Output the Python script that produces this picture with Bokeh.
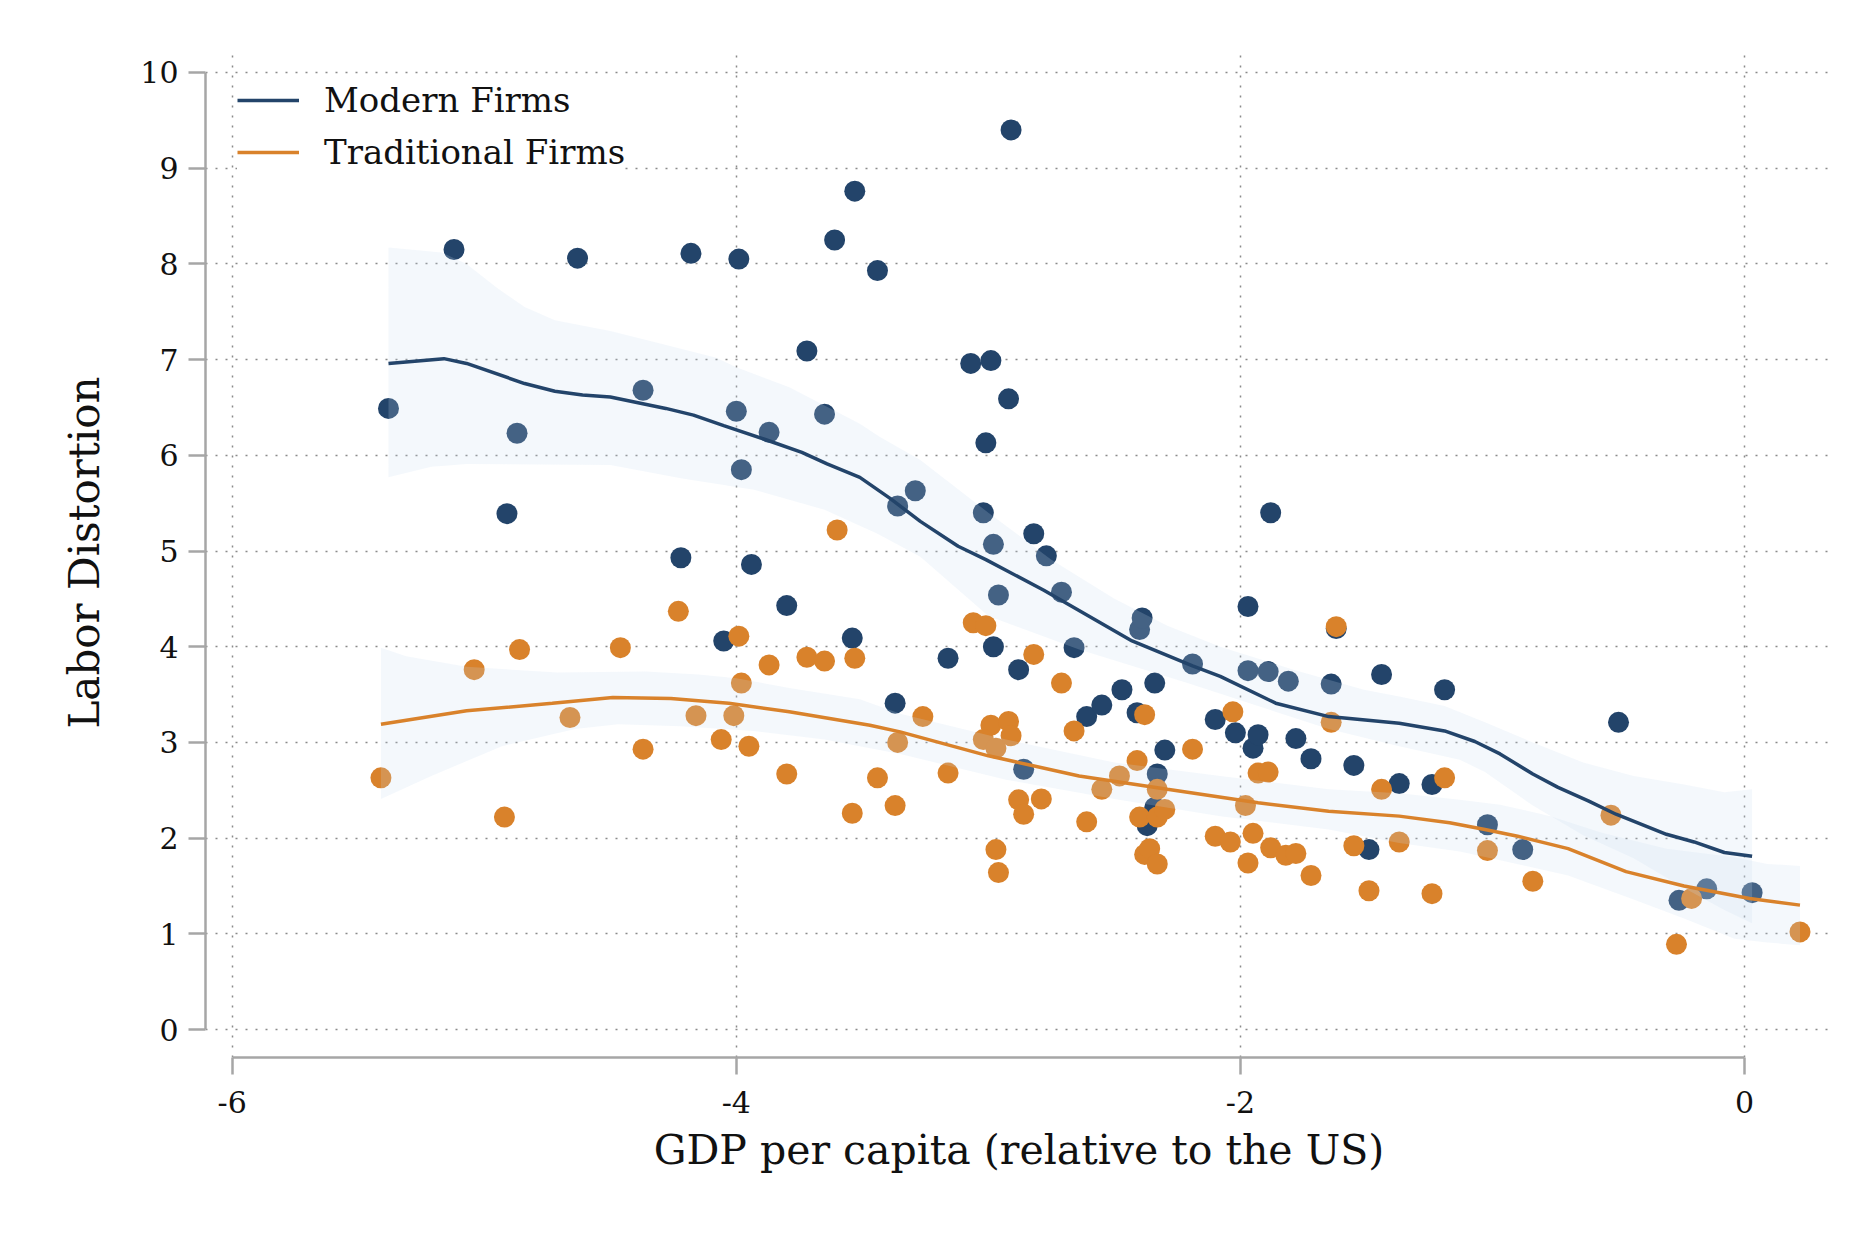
from bokeh.plotting import figure
from bokeh.models import Legend, LegendItem, FixedTicker, Range1d
from bokeh.embed import file_html
from bokeh.resources import INLINE

# ---------------- data ----------------
modern_x = [-5.38, -5.12, -4.87, -4.91, -4.63, -4.37, -4.22, -4.18, -3.99, -4.05,
            -4.00, -3.98, -3.94, -3.87, -3.80, -3.72, -3.65, -3.61, -3.53, -3.44,
            -3.54, -3.37, -3.36, -3.29, -3.16, -3.07, -2.99, -2.92, -2.91, -3.01,
            -3.02, -2.98, -2.96, -2.98, -2.88, -2.82, -2.77, -2.71, -2.86, -2.66,
            -2.61, -2.55, -2.47, -2.40, -2.39, -2.41, -2.34, -2.33, -2.37, -2.30,
            -2.34, -2.19, -2.10, -2.02, -1.97, -1.97, -1.95, -1.93, -1.89, -1.88,
            -1.81, -1.78, -1.72, -1.64, -1.62, -1.55, -1.49, -1.44, -1.37, -1.24,
            -1.19, -1.02, -0.88, -0.50, -0.26, -0.15, 0.03]
modern_y = [6.49, 8.15, 6.23, 5.39, 8.06, 6.68, 4.93, 8.11, 8.05, 4.06,
            6.46, 5.85, 4.86, 6.24, 4.43, 7.09, 6.43, 8.25, 8.76, 7.93,
            4.09, 3.41, 5.47, 5.63, 3.88, 6.96, 6.99, 6.59, 9.40, 6.13,
            5.40, 5.07, 4.54, 4.00, 3.76, 5.18, 4.95, 4.57, 2.72, 3.99,
            3.27, 3.39, 3.55, 4.18, 4.30, 3.31, 3.62, 2.67, 2.13, 2.92,
            2.32, 3.82, 3.24, 3.10, 4.42, 3.75, 2.94, 3.08, 3.74, 5.40,
            3.64, 3.04, 2.83, 3.61, 4.19, 2.76, 1.88, 3.71, 2.57, 2.56,
            3.55, 2.14, 1.88, 3.21, 1.35, 1.47, 1.43]

trad_x = [-5.41, -5.04, -4.92, -4.86, -4.66, -4.46, -4.37, -4.23, -4.16, -4.06,
          -4.01, -3.99, -3.98, -3.95, -3.87, -3.80, -3.72, -3.65, -3.60, -3.54,
          -3.53, -3.44, -3.37, -3.36, -3.26, -3.16, -3.06, -3.01, -2.99, -3.02,
          -2.97, -2.92, -2.91, -2.97, -2.96, -2.88, -2.86, -2.79, -2.82, -2.71,
          -2.66, -2.61, -2.55, -2.48, -2.41, -2.40, -2.38, -2.38, -2.36, -2.33,
          -2.33, -2.33, -2.30, -2.19, -2.10, -2.04, -2.03, -1.98, -1.97, -1.95,
          -1.93, -1.89, -1.88, -1.82, -1.78, -1.72, -1.64, -1.62, -1.55, -1.49,
          -1.44, -1.37, -1.24, -1.19, -1.02, -0.84, -0.53, -0.27, -0.21, 0.22]
trad_y = [2.63, 3.76, 2.22, 3.97, 3.26, 3.99, 2.93, 4.37, 3.28, 3.03,
          3.28, 4.11, 3.62, 2.96, 3.81, 2.67, 3.89, 3.85, 5.22, 2.26,
          3.88, 2.63, 2.34, 3.00, 3.27, 2.68, 4.25, 4.22, 3.18, 3.03,
          2.94, 3.22, 3.07, 1.88, 1.64, 2.40, 2.25, 2.41, 3.92, 3.62,
          3.12, 2.17, 2.51, 2.65, 2.81, 2.22, 3.29, 1.83, 1.89, 1.73,
          2.51, 2.22, 2.30, 2.93, 2.02, 1.96, 3.32, 2.34, 1.74, 2.05,
          2.68, 2.69, 1.90, 1.82, 1.84, 1.61, 3.21, 4.21, 1.92, 1.45,
          2.51, 1.96, 1.42, 2.63, 1.87, 1.55, 2.24, 0.89, 1.37, 1.02]

# smoothed (lowess) fits and their confidence bands
modern_fit_x = [-5.38, -5.16, -5.07, -4.84, -4.72, -4.61, -4.50, -4.28, -4.17, -4.05,
                -3.88, -3.74, -3.64, -3.51, -3.39, -3.27, -3.12, -3.01, -2.78, -2.43,
                -2.19, -2.08, -1.86, -1.65, -1.37, -1.19, -1.07, -0.97, -0.84, -0.74,
                -0.62, -0.51, -0.31, -0.20, -0.08, 0.03]
modern_fit_y = [6.96, 7.01, 6.96, 6.75, 6.67, 6.63, 6.61, 6.49, 6.42, 6.31,
                6.16, 6.03, 5.91, 5.77, 5.55, 5.31, 5.05, 4.91, 4.59, 4.06,
                3.80, 3.69, 3.41, 3.27, 3.20, 3.12, 3.01, 2.88, 2.67, 2.53,
                2.39, 2.25, 2.04, 1.96, 1.85, 1.81]
modern_hi_x = [-5.38, -5.17, -5.07, -4.95, -4.84, -4.72, -4.50, -4.29, -4.08, -4.00,
               -3.79, -3.51, -3.43, -3.27, -3.00, -2.75, -2.50, -2.29, -2.08, -1.79,
               -1.51, -1.37, -1.19, -1.03, -0.84, -0.64, -0.44, -0.24, -0.08, 0.03]
modern_hi_y = [8.17, 8.12, 8.00, 7.75, 7.55, 7.41, 7.30, 7.16, 7.02, 6.92,
               6.71, 6.33, 6.19, 5.95, 5.40, 4.91, 4.50, 4.22, 4.00, 3.76,
               3.55, 3.48, 3.38, 3.21, 3.00, 2.79, 2.65, 2.56, 2.48, 2.51]
modern_lo_x = [-5.38, -5.21, -5.07, -4.50, -4.22, -3.93, -3.65, -3.44, -3.27, -3.00,
               -2.64, -2.21, -1.93, -1.65, -1.37, -1.13, -1.03, -0.84, -0.64, -0.44,
               -0.24, -0.08, 0.03]
modern_lo_y = [5.77, 5.88, 5.91, 5.90, 5.76, 5.64, 5.43, 5.18, 4.94, 4.32,
               3.97, 3.62, 3.38, 3.14, 2.96, 2.82, 2.69, 2.34, 2.03, 1.79,
               1.48, 1.25, 1.11]

trad_fit_x = [-5.41, -5.07, -4.73, -4.49, -4.26, -4.03, -3.79, -3.47, -3.35, -3.00,
              -2.64, -2.29, -1.93, -1.65, -1.37, -1.17, -1.03, -0.90, -0.70, -0.47,
              -0.24, 0.02, 0.22]
trad_fit_y = [3.19, 3.33, 3.41, 3.47, 3.46, 3.41, 3.32, 3.18, 3.11, 2.86,
              2.65, 2.51, 2.37, 2.28, 2.23, 2.16, 2.09, 2.02, 1.89, 1.65,
              1.50, 1.37, 1.30]
trad_hi_x = [-5.41, -5.31, -5.07, -4.71, -4.36, -4.15, -4.00, -3.79, -3.51, -3.35,
             -2.93, -2.50, -2.08, -1.65, -1.37, -1.13, -0.97, -0.77, -0.57, -0.31,
             -0.04, 0.09, 0.22]
trad_hi_y = [3.99, 3.90, 3.79, 3.73, 3.74, 3.71, 3.67, 3.57, 3.45, 3.30,
             3.03, 2.79, 2.65, 2.51, 2.47, 2.40, 2.35, 2.23, 2.06, 1.89,
             1.80, 1.73, 1.71]
trad_lo_x = [-5.41, -5.21, -4.93, -4.64, -4.47, -4.22, -3.93, -3.65, -3.35, -2.93,
             -2.50, -2.08, -1.65, -1.37, -1.13, -0.97, -0.70, -0.44, -0.24, -0.04,
             0.09, 0.22]
trad_lo_y = [2.41, 2.65, 2.96, 3.14, 3.19, 3.17, 3.12, 3.03, 2.88, 2.61,
             2.41, 2.23, 2.09, 1.95, 1.86, 1.77, 1.61, 1.36, 1.16, 0.95,
             0.91, 0.88]

x_ticks = [-6, -4, -2, 0]
x_tick_labels = ["-6", "-4", "-2", "0"]
y_ticks = [0, 1, 2, 3, 4, 5, 6, 7, 8, 9, 10]

labels = ["Modern Firms", "Traditional Firms"]
x_title = "GDP per capita (relative to the US)"
y_title = "Labor Distortion"

# ---------------- styling ----------------
FONT = "DejaVu Serif"
NAVY = "#23446a"
ORANGE = "#d9822b"
BAND = "#c8dcf2"
AXIS = "#a6a6a6"
GRID = "#8a8a8a"

p = figure(width=1856, height=1232, output_backend="svg", toolbar_location=None,
           x_range=Range1d(-6.106, 0.349), y_range=Range1d(-0.292, 10.261),
           min_border_left=205, min_border_right=24, min_border_top=47,
           min_border_bottom=175)
p.outline_line_color = None
p.background_fill_color = "white"
p.border_fill_color = "white"

# scatter first, confidence bands over them, fits on top
p.scatter(modern_x, modern_y, size=21, fill_color=NAVY, line_color=None)
p.scatter(trad_x, trad_y, size=21, fill_color=ORANGE, line_color=None)

p.patch(modern_hi_x + modern_lo_x[::-1], modern_hi_y + modern_lo_y[::-1],
        fill_color=BAND, fill_alpha=0.2, line_color=None)
p.patch(trad_hi_x + trad_lo_x[::-1], trad_hi_y + trad_lo_y[::-1],
        fill_color=BAND, fill_alpha=0.2, line_color=None)

r_mod = p.line(modern_fit_x, modern_fit_y, line_color=NAVY, line_width=3.5)
r_trad = p.line(trad_fit_x, trad_fit_y, line_color=ORANGE, line_width=3.5)

# axes
for ax in (p.xaxis[0], p.yaxis[0]):
    ax.axis_line_color = AXIS
    ax.axis_line_width = 2.5
    ax.major_tick_line_color = AXIS
    ax.major_tick_line_width = 2.5
    ax.major_tick_out = 17
    ax.major_tick_in = 0
    ax.minor_tick_line_color = None
    ax.major_label_text_font = FONT
    ax.major_label_text_font_size = "30px"
    ax.major_label_text_color = "#111111"
    ax.axis_label_text_font = FONT
    ax.axis_label_text_font_style = "normal"
    ax.axis_label_text_color = "#111111"

p.xaxis.ticker = FixedTicker(ticks=x_ticks)
p.xaxis.major_label_overrides = {t: s for t, s in zip(x_ticks, x_tick_labels)}
p.xaxis.bounds = (x_ticks[0], x_ticks[-1])
p.xaxis.major_label_standoff = 16
p.xaxis.axis_label = x_title
p.xaxis.axis_label_text_font_size = "41px"
p.xaxis.axis_label_standoff = 10

p.yaxis.ticker = FixedTicker(ticks=y_ticks)
p.yaxis.bounds = (y_ticks[0], y_ticks[-1])
p.yaxis.major_label_standoff = 10
p.yaxis.major_label_orientation = "horizontal"
p.yaxis.axis_label = y_title
p.yaxis.axis_label_text_font_size = "42px"
p.yaxis.axis_label_standoff = 28

for g in (p.xgrid[0], p.ygrid[0]):
    g.grid_line_color = GRID
    g.grid_line_dash = "2 8"
    g.grid_line_width = 1.5

legend = Legend(items=[LegendItem(label=labels[0], renderers=[r_mod]),
                       LegendItem(label=labels[1], renderers=[r_trad])],
                location=(32, 885), padding=20, spacing=12, margin=0,
                glyph_width=62, glyph_height=40, label_height=40,
                label_standoff=25, label_text_font=FONT,
                label_text_font_size="34px", label_text_color="#111111",
                border_line_color=None, background_fill_color="white",
                background_fill_alpha=1.0)
p.add_layout(legend)

open("out.html", "w").write(file_html(p, INLINE))
